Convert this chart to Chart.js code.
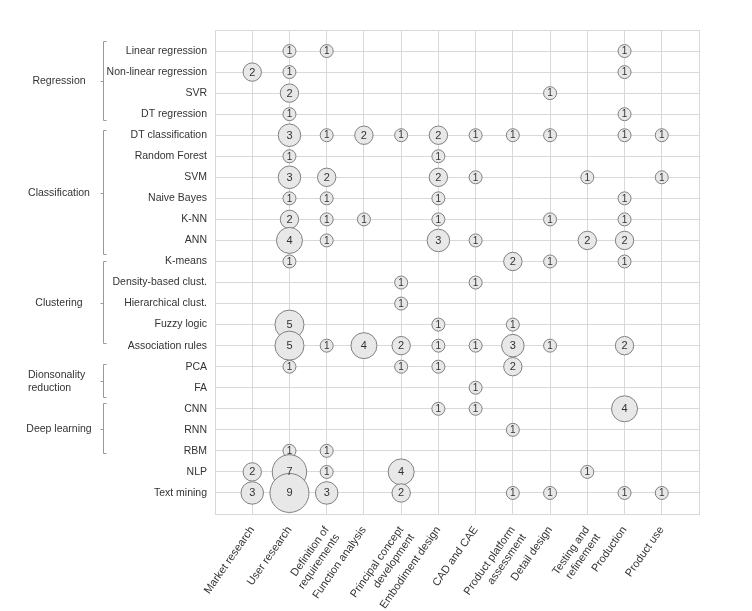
<!DOCTYPE html>
<html>
<head>
<meta charset="utf-8">
<title>ML methods by product design phase</title>
<script src="https://cdn.jsdelivr.net/npm/chart.js@4.4.1/dist/chart.umd.min.js"></script>
<style>
  html, body { margin: 0; padding: 0; background: #fff; }
  #wrap { width: 752px; height: 611px; position: relative; }
</style>
</head>
<body>
<div id="wrap"><canvas id="methodsChart" width="752" height="611"></canvas></div>
<script>
  "use strict";

  // design phases (x axis)
  var phases = [
    "Market research", "User research", ["Definition of", "requirements"],
    "Function analysis", ["Principal concept", "development"], "Embodiment design",
    "CAD and CAE", ["Product platform", "assessment"], "Detail design",
    ["Testing and", "refinement"], "Production", "Product use"
  ];

  // ML methods (y axis, top to bottom)
  var methods = [
    "Linear regression", "Non-linear regression", "SVR", "DT regression",
    "DT classification", "Random Forest", "SVM", "Naive Bayes", "K-NN", "ANN",
    "K-means", "Density-based clust.", "Hierarchical clust.", "Fuzzy logic",
    "Association rules", "PCA", "FA", "CNN", "RNN", "RBM", "NLP", "Text mining"
  ];

  // method groups: label lines, first row, last row
  var groupNames = [["Regression"], ["Classification"], ["Clustering"], ["Dionsonality", "reduction"], ["Deep learning"]];
  var groupFirst = [0, 4, 10, 15, 17];
  var groupLast = [3, 9, 14, 16, 19];

  // number of papers, one row per method, one column per phase
  var counts = [
    [0, 1, 1, 0, 0, 0, 0, 0, 0, 0, 1, 0],
    [2, 1, 0, 0, 0, 0, 0, 0, 0, 0, 1, 0],
    [0, 2, 0, 0, 0, 0, 0, 0, 1, 0, 0, 0],
    [0, 1, 0, 0, 0, 0, 0, 0, 0, 0, 1, 0],
    [0, 3, 1, 2, 1, 2, 1, 1, 1, 0, 1, 1],
    [0, 1, 0, 0, 0, 1, 0, 0, 0, 0, 0, 0],
    [0, 3, 2, 0, 0, 2, 1, 0, 0, 1, 0, 1],
    [0, 1, 1, 0, 0, 1, 0, 0, 0, 0, 1, 0],
    [0, 2, 1, 1, 0, 1, 0, 0, 1, 0, 1, 0],
    [0, 4, 1, 0, 0, 3, 1, 0, 0, 2, 2, 0],
    [0, 1, 0, 0, 0, 0, 0, 2, 1, 0, 1, 0],
    [0, 0, 0, 0, 1, 0, 1, 0, 0, 0, 0, 0],
    [0, 0, 0, 0, 1, 0, 0, 0, 0, 0, 0, 0],
    [0, 5, 0, 0, 0, 1, 0, 1, 0, 0, 0, 0],
    [0, 5, 1, 4, 2, 1, 1, 3, 1, 0, 2, 0],
    [0, 1, 0, 0, 1, 1, 0, 2, 0, 0, 0, 0],
    [0, 0, 0, 0, 0, 0, 1, 0, 0, 0, 0, 0],
    [0, 0, 0, 0, 0, 1, 1, 0, 0, 0, 4, 0],
    [0, 0, 0, 0, 0, 0, 0, 1, 0, 0, 0, 0],
    [0, 1, 1, 0, 0, 0, 0, 0, 0, 0, 0, 0],
    [2, 7, 1, 0, 4, 0, 0, 0, 0, 1, 0, 0],
    [3, 9, 3, 0, 2, 0, 0, 1, 1, 0, 1, 1]
  ];

  var FONT = "'Liberation Sans', Arial, sans-serif";
  var GRID = '#d9d9d9';

  // bracket extents around each group, in row units
  var bracketTop = [-0.5, -0.27, 0, -0.13, -0.27];
  var bracketBottom = [0.3, 0.63, -0.13, 0.44, 0.11];

  var points = [];
  counts.forEach(function(row, r) {
    row.forEach(function(v, c) {
      if (v > 0) points.push({ x: c, y: r, r: 6.5 * Math.sqrt(v), v: v });
    });
  });

  // numbers inside the bubbles
  var bubbleLabels = {
    id: 'bubbleLabels',
    afterDatasetsDraw: function(chart) {
      var ctx = chart.ctx;
      var meta = chart.getDatasetMeta(0);
      ctx.save();
      ctx.fillStyle = '#333';
      ctx.textAlign = 'center';
      ctx.textBaseline = 'middle';
      meta.data.forEach(function(el, i) {
        var v = points[i].v;
        ctx.font = (v > 1 ? 11 : 10) + 'px ' + FONT;
        ctx.fillText(String(v), el.x, el.y + 0.5);
      });
      ctx.restore();
    }
  };

  // group labels and brackets on the left
  var groupBrackets = {
    id: 'groupBrackets',
    afterDraw: function(chart) {
      var ctx = chart.ctx;
      var y = chart.scales.y;
      var bx = 103.5;
      ctx.save();
      groupNames.forEach(function(name, g) {
        var top = Math.round(y.getPixelForValue(groupFirst[g] + bracketTop[g])) + 0.5;
        var bot = Math.round(y.getPixelForValue(groupLast[g] + bracketBottom[g])) + 0.5;
        var mid = Math.round((top + bot) / 2) + 0.5;
        ctx.strokeStyle = '#9a9a9a';
        ctx.lineWidth = 1;
        ctx.beginPath();
        ctx.moveTo(bx + 3, top);
        ctx.lineTo(bx, top);
        ctx.lineTo(bx, bot);
        ctx.lineTo(bx + 3, bot);
        ctx.moveTo(bx, mid);
        ctx.lineTo(bx - 3, mid);
        ctx.stroke();

        ctx.fillStyle = '#333';
        ctx.font = '10.5px ' + FONT;
        ctx.textAlign = name.length > 1 ? 'left' : 'center';
        ctx.textBaseline = 'middle';
        var lh = 13;
        name.forEach(function(line, k) {
          var ty = mid + (k - (name.length - 1) / 2) * lh;
          ctx.fillText(line, name.length > 1 ? 28 : 59, ty);
        });
      });
      ctx.restore();
    }
  };

  var ctx = document.getElementById('methodsChart').getContext('2d');
  var chart = new Chart(ctx, {
    type: 'bubble',
    data: {
      datasets: [{
        data: points,
        backgroundColor: '#e8e8e8',
        borderColor: '#808080',
        borderWidth: 1,
        hoverRadius: 0
      }]
    },
    options: {
      responsive: false,
      animation: false,
      layout: { padding: { top: 30, right: 53, left: 0, bottom: 0 } },
      plugins: {
        legend: { display: false },
        tooltip: { enabled: false }
      },
      scales: {
        x: {
          type: 'linear',
          position: 'bottom',
          min: -1,
          max: 12,
          grid: { color: GRID, drawTicks: false },
          border: { color: GRID },
          ticks: {
            stepSize: 1,
            autoSkip: false,
            minRotation: 55,
            maxRotation: 55,
            padding: 10,
            color: '#333',
            font: { family: FONT, size: 11 },
            callback: function(v) { return phases[v] || ''; }
          },
          afterFit: function(scale) { scale.height = 97; }
        },
        y: {
          type: 'linear',
          reverse: true,
          min: -1,
          max: 22,
          grid: { color: GRID, drawTicks: false },
          border: { color: GRID },
          ticks: {
            stepSize: 1,
            autoSkip: false,
            padding: 8,
            color: '#333',
            font: { family: FONT, size: 10.5 },
            callback: function(v) { return methods[v] || ''; }
          },
          afterFit: function(scale) { scale.width = 215; }
        }
      }
    },
    plugins: [bubbleLabels, groupBrackets]
  });
</script>
</body>
</html>
